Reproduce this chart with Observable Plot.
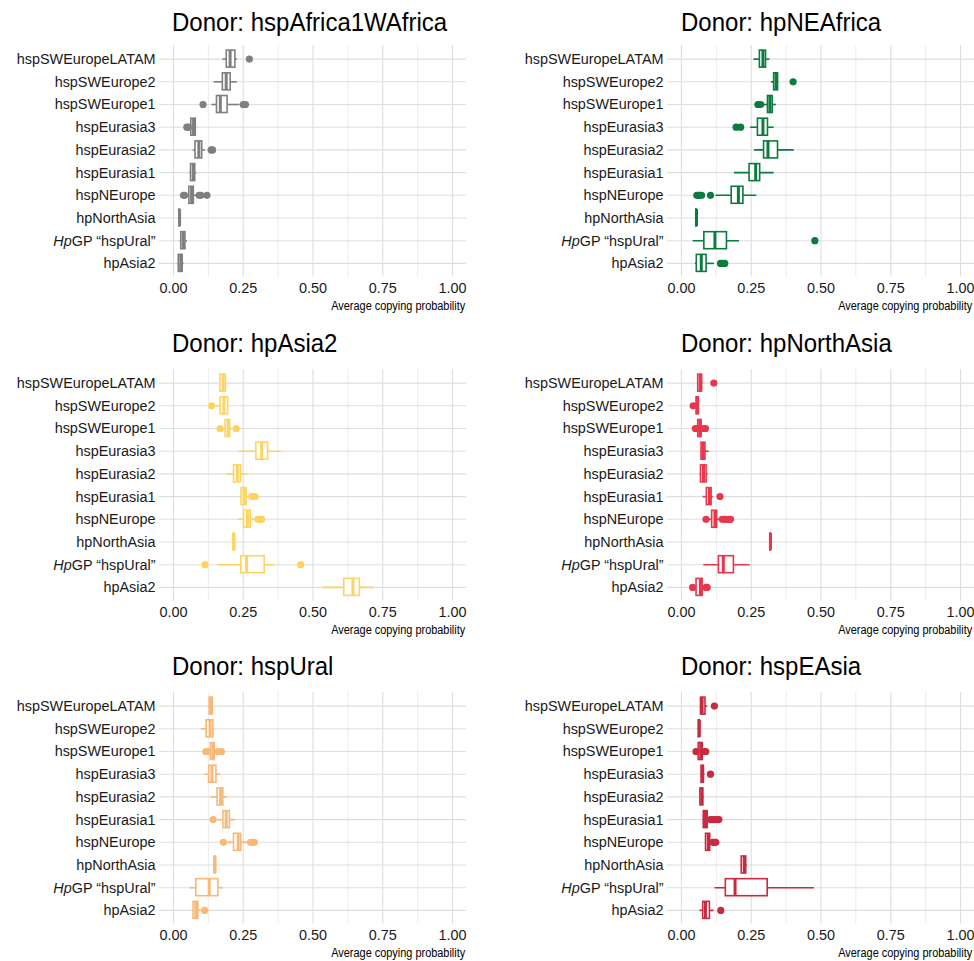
<!DOCTYPE html>
<html><head><meta charset="utf-8">
<script src="https://cdn.jsdelivr.net/npm/d3@7"></script>
<script src="https://cdn.jsdelivr.net/npm/@observablehq/plot@0.6"></script>
<style>
body{margin:0;background:#fff;}
#root{position:relative;width:974px;height:961px;overflow:hidden;background:#fff;font-family:"Liberation Sans",Arial,sans-serif;}
.title{position:absolute;font-size:25px;line-height:25px;color:#000;white-space:nowrap;transform:scaleX(0.96);transform-origin:0 0;}
.xlab{position:absolute;font-size:12px;line-height:12px;color:#000;white-space:nowrap;transform:scaleX(0.91);transform-origin:100% 0;}
#root svg{position:absolute;overflow:visible;}
</style></head><body><div id="root"></div>
<script>
// ---- data ----
const categories = ["hspSWEuropeLATAM","hspSWEurope2","hspSWEurope1","hspEurasia3","hspEurasia2","hspEurasia1","hspNEurope","hpNorthAsia","HpGP “hspUral”","hpAsia2"];
const donors = ["hspAfrica1WAfrica","hpNEAfrica","hpAsia2","hpNorthAsia","hspUral","hspEAsia"];
const colors = ["#7f7f7f","#0b7b3e","#ffd45e","#e8364c","#f8b878","#c82a41"];
const xTicks = [0, 0.25, 0.5, 0.75, 1];
const xMinorTicks = [0.125, 0.375, 0.625, 0.875];
const xLabel = "Average copying probability";

// per category: [lower whisker, q1, median, q3, upper whisker]
const statsAfrica1WAfrica = [[0.177,0.191,0.203,0.222,0.229],[0.146,0.177,0.189,0.205,0.229],[0.138,0.156,0.168,0.194,0.238],[0.061,0.064,0.072,0.080,0.083],[0.071,0.079,0.091,0.103,0.114],[0.059,0.063,0.071,0.078,0.083],[0.047,0.057,0.065,0.073,0.085],[0.020,0.021,0.022,0.023,0.024],[0.024,0.028,0.035,0.043,0.050],[0.017,0.019,0.026,0.033,0.038]];
const outAfrica1WAfrica = [["hspSWEuropeLATAM",0.272],["hspSWEurope1",0.106],["hspSWEurope1",0.250],["hspSWEurope1",0.258],["hspEurasia3",0.048],["hspEurasia3",0.053],["hspEurasia2",0.135],["hspEurasia2",0.140],["hspNEurope",0.036],["hspNEurope",0.040],["hspNEurope",0.092],["hspNEurope",0.098],["hspNEurope",0.120]];
const statsNEAfrica = [[0.260,0.281,0.292,0.303,0.317],[0.322,0.332,0.339,0.346,0.349],[0.292,0.310,0.317,0.327,0.340],[0.248,0.274,0.292,0.310,0.332],[0.262,0.296,0.310,0.346,0.404],[0.190,0.244,0.266,0.282,0.332],[0.124,0.180,0.204,0.222,0.270],[0.052,0.053,0.054,0.055,0.056],[0.042,0.082,0.120,0.163,0.208],[0.050,0.055,0.071,0.090,0.118]];
const outNEAfrica = [["hspSWEurope2",0.400],["hspSWEurope1",0.274],["hspSWEurope1",0.284],["hspEurasia3",0.196],["hspEurasia3",0.212],["hspNEurope",0.055],["hspNEurope",0.060],["hspNEurope",0.066],["hspNEurope",0.072],["hspNEurope",0.104],["HpGP “hspUral”",0.478],["hpAsia2",0.140],["hpAsia2",0.147],["hpAsia2",0.155]];
const statsAsia2 = [[0.165,0.168,0.178,0.188,0.191],[0.152,0.169,0.181,0.196,0.198],[0.180,0.187,0.196,0.203,0.212],[0.235,0.297,0.316,0.339,0.387],[0.191,0.217,0.229,0.242,0.265],[0.241,0.244,0.253,0.262,0.272],[0.232,0.253,0.265,0.277,0.291],[0.214,0.215,0.217,0.219,0.220],[0.161,0.243,0.262,0.327,0.363],[0.536,0.612,0.643,0.668,0.720]];
const outAsia2 = [["hspSWEurope2",0.137],["hspSWEurope1",0.167],["hspSWEurope1",0.225],["hspEurasia1",0.281],["hspEurasia1",0.287],["hspEurasia1",0.293],["hspNEurope",0.302],["hspNEurope",0.310],["hspNEurope",0.316],["HpGP “hspUral”",0.113],["HpGP “hspUral”",0.456]];
const statsNorthAsia = [[0.058,0.060,0.067,0.074,0.077],[0.050,0.054,0.058,0.062,0.064],[0.058,0.060,0.066,0.072,0.075],[0.070,0.072,0.078,0.086,0.100],[0.066,0.070,0.079,0.090,0.096],[0.078,0.091,0.100,0.108,0.114],[0.096,0.110,0.120,0.128,0.138],[0.317,0.318,0.319,0.320,0.321],[0.080,0.134,0.150,0.188,0.246],[0.046,0.054,0.068,0.076,0.084]];
const outNorthAsia = [["hspSWEuropeLATAM",0.116],["hspSWEurope2",0.042],["hspSWEurope1",0.050],["hspSWEurope1",0.054],["hspSWEurope1",0.080],["hspSWEurope1",0.086],["hspEurasia1",0.138],["hspNEurope",0.088],["hspNEurope",0.146],["hspNEurope",0.155],["hspNEurope",0.163],["hspNEurope",0.170],["hspNEurope",0.176],["hpAsia2",0.040],["hpAsia2",0.088],["hpAsia2",0.092]];
const statsUral = [[0.127,0.130,0.135,0.141,0.143],[0.100,0.119,0.131,0.143,0.146],[0.130,0.134,0.141,0.148,0.155],[0.113,0.128,0.138,0.154,0.169],[0.134,0.158,0.169,0.179,0.193],[0.158,0.179,0.189,0.202,0.223],[0.196,0.217,0.232,0.243,0.268],[0.146,0.147,0.149,0.151,0.152],[0.060,0.082,0.128,0.161,0.179],[0.070,0.072,0.080,0.089,0.100]];
const outUral = [["hspSWEurope1",0.116],["hspSWEurope1",0.122],["hspSWEurope1",0.160],["hspSWEurope1",0.166],["hspSWEurope1",0.172],["hspEurasia1",0.142],["hspNEurope",0.179],["hspNEurope",0.276],["hspNEurope",0.283],["hspNEurope",0.290],["hpAsia2",0.112]];
const statsEAsia = [[0.068,0.070,0.074,0.086,0.094],[0.060,0.062,0.064,0.066,0.068],[0.058,0.062,0.069,0.076,0.080],[0.070,0.072,0.076,0.080,0.084],[0.066,0.068,0.073,0.078,0.081],[0.078,0.080,0.086,0.094,0.098],[0.086,0.088,0.096,0.103,0.106],[0.214,0.216,0.225,0.232,0.236],[0.120,0.159,0.192,0.309,0.476],[0.066,0.078,0.086,0.102,0.116]];
const outEAsia = [["hspSWEuropeLATAM",0.118],["hspSWEurope1",0.052],["hspSWEurope1",0.084],["hspSWEurope1",0.087],["hspEurasia3",0.104],["hspEurasia1",0.104],["hspEurasia1",0.112],["hspEurasia1",0.120],["hspEurasia1",0.128],["hspEurasia1",0.134],["hspNEurope",0.112],["hspNEurope",0.118],["hspNEurope",0.123],["hpAsia2",0.141]];

const allStats = [statsAfrica1WAfrica, statsNEAfrica, statsAsia2, statsNorthAsia, statsUral, statsEAsia];
const allOutliers = [outAfrica1WAfrica, outNEAfrica, outAsia2, outNorthAsia, outUral, outEAsia];

// ---- layout ----
const root = document.getElementById("root");
const FONT = '"Liberation Sans",Arial,sans-serif';
const plotTops = [44.7, 369.1, 692.4];
const plotH = 231.5;
const titleBase = [31, 352, 675];
const PW = 487;
const SX = 0.93;

function condense(t) {
  const tr = t.getAttribute("transform");
  if (tr) {
    t.setAttribute("transform", tr + ` scale(${SX},1)`);
  } else {
    const x = +(t.getAttribute("x") || 0), y = +(t.getAttribute("y") || 0);
    t.setAttribute("transform", `translate(${x},${y}) scale(${SX},1) translate(${-x},${-y})`);
  }
}

donors.forEach((donor, i) => {
  const col = i % 2, row = Math.floor(i / 2);
  const color = colors[i];
  const rows = categories.map((c, k) => {
    const s = allStats[i][k];
    return {cat: c, lo: s[0], q1: s[1], med: s[2], q3: s[3], hi: s[4]};
  });
  const dots = allOutliers[i].map(([c, v]) => ({cat: c, v}));
  const ml = col ? 180 : 159, mr = col ? 0 : 21;
  const mt = 6, mb = 50;
  const svg = Plot.plot({
    width: PW, height: mt + plotH + mb,
    marginLeft: ml, marginRight: mr, marginTop: mt, marginBottom: mb,
    style: {fontFamily: FONT, fontSize: "15.5px", color: "#1a1a1a", background: "transparent", overflow: "visible"},
    x: {domain: [-0.05, 1.05], ticks: xTicks, tickFormat: d3.format(".2f"), tickSize: 0, tickPadding: 5, label: null},
    y: {domain: categories, type: "band", round: false, paddingInner: 0.25, paddingOuter: 0.225, tickSize: 0, tickPadding: 4, label: null},
    marks: [
      Plot.ruleX(xMinorTicks, {stroke: "#ebebeb", strokeWidth: 1}),
      Plot.ruleX(xTicks, {stroke: "#dedede", strokeWidth: 1.1}),
      Plot.ruleY(categories, {y: d => d, stroke: "#dedede", strokeWidth: 1.1}),
      Plot.ruleY(rows, {y: "cat", x1: "lo", x2: "hi", stroke: color, strokeWidth: 1.6}),
      Plot.barX(rows, {y: "cat", x1: "q1", x2: "q3", fill: "#fff", stroke: color, strokeWidth: 1.6}),
      Plot.tickX(rows, {y: "cat", x: "med", stroke: color, strokeWidth: 3}),
      Plot.dot(dots, {y: "cat", x: "v", r: 3.6, fill: color, stroke: "none"})
    ]
  });
  svg.style.left = (col * PW) + "px";
  svg.style.top = (plotTops[row] - mt) + "px";
  svg.querySelectorAll("text").forEach(t => {
    if (t.textContent === "HpGP “hspUral”") {
      t.textContent = "";
      const a = document.createElementNS("http://www.w3.org/2000/svg", "tspan");
      a.setAttribute("font-style", "italic"); a.textContent = "Hp";
      const b = document.createElementNS("http://www.w3.org/2000/svg", "tspan");
      b.textContent = "GP “hspUral”";
      t.appendChild(a); t.appendChild(b);
    }
    condense(t);
  });
  root.appendChild(svg);

  const title = document.createElement("div");
  title.className = "title";
  title.textContent = "Donor: " + donor;
  title.style.left = (col ? 681 : 172) + "px";
  title.style.top = (titleBase[row] - 0.85 * 25) + "px";
  root.appendChild(title);

  const xl = document.createElement("div");
  xl.className = "xlab";
  xl.textContent = xLabel;
  const rightEdge = col ? 972 : 465;
  xl.style.right = (974 - rightEdge) + "px";
  xl.style.top = (plotTops[row] + plotH + 33.7 - 0.85 * 12) + "px";
  root.appendChild(xl);
});
</script>
</body></html>
